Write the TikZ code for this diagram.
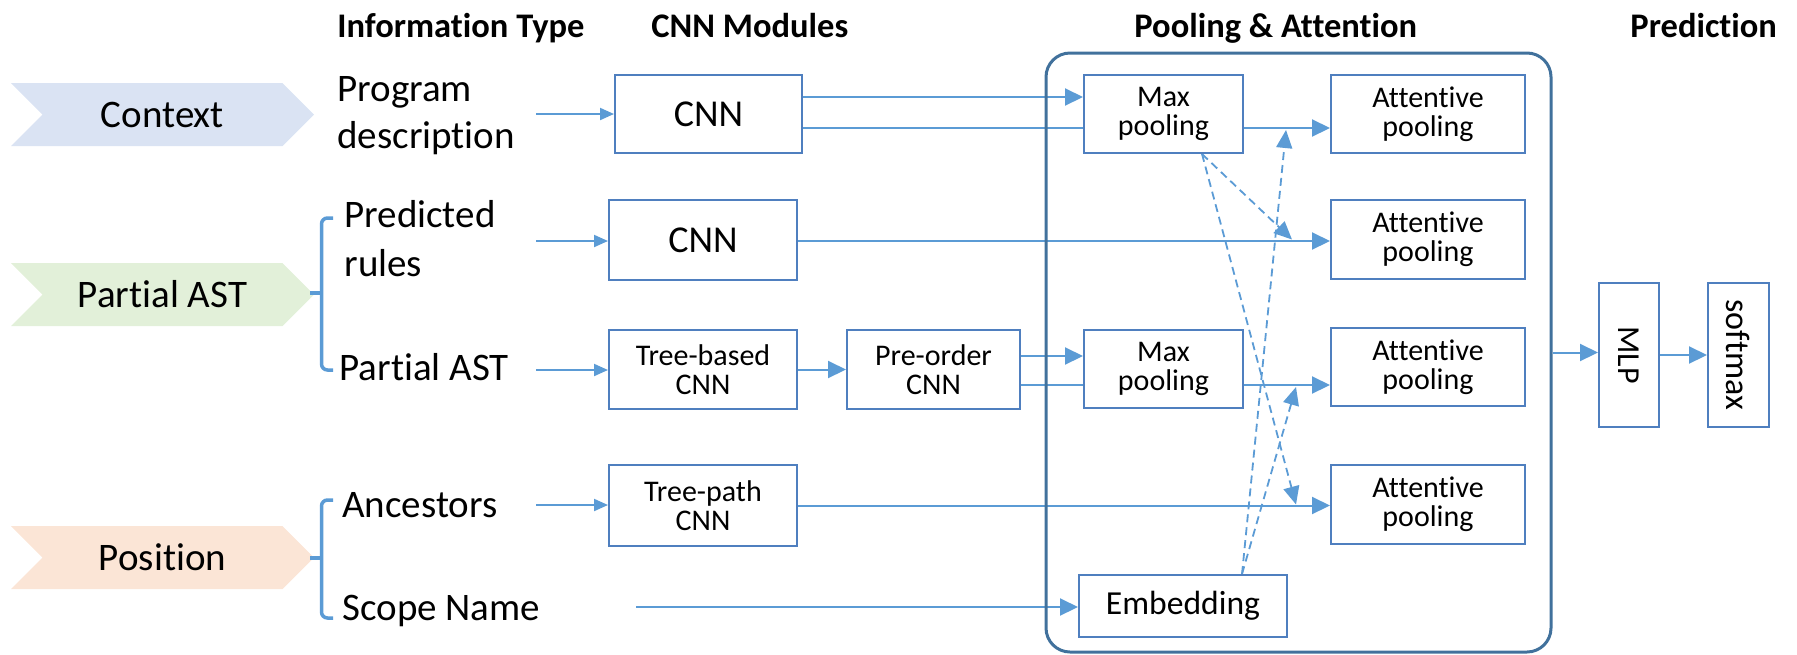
\documentclass[tikz,border=0pt]{standalone}
\usepackage{fontspec}
\setmainfont{Carlito}[Ligatures={NoCommon,NoContextual},RawFeature={-liga;-clig;-dlig}]
\usepackage{graphicx}
\usetikzlibrary{arrows.meta,shapes.symbols,backgrounds}
\definecolor{linec}{HTML}{5B9BD5}
\definecolor{boxc}{HTML}{4F7FBF}
\definecolor{rectc}{HTML}{41719C}
\definecolor{ctxc}{HTML}{DAE3F3}
\definecolor{astc}{HTML}{E2F0D9}
\definecolor{posc}{HTML}{FBE5D6}
\begin{document}
\begin{tikzpicture}[x=0.5pt,y=-0.5pt,
  box/.style={draw=boxc,line width=1pt,fill=white,inner sep=0pt,align=center,font=\fontsize{15}{14.5}\selectfont},
  arr/.style={draw=linec,line width=1pt,-{Triangle[length=9pt,width=8.5pt]}},
  sarr/.style={draw=linec,line width=1pt,-{Triangle[length=7pt,width=6pt]}},
  darr/.style={draw=linec,line width=0.9pt,dash pattern=on 4pt off 2.5pt,-{Triangle[length=9pt,width=8pt]}},
  lab/.style={inner sep=0pt,font=\fontsize{19.5}{23.5}\selectfont,align=left},
  head/.style={inner sep=0pt,font=\fontsize{17.25}{20}\selectfont\bfseries},
  chev/.style={signal,signal from=west,signal to=east,draw=none,minimum width=151.5pt,minimum height=31.5pt,inner sep=0pt,font=\fontsize{19.5}{23.5}\selectfont},
  brace/.style={draw=linec,line width=1.75pt,rounded corners=3pt}]
\useasboundingbox (0,0) rectangle (1797,654);

% headers
\node[head,anchor=base west] (h1) at (337,37) {Information Type};
\node[head,anchor=base west] (h2) at (651,37) {CNN Modules};
\node[head,anchor=base west] (h3) at (1134,37) {Pooling \& Attention};
\node[head,anchor=base west] (h4) at (1630,37) {Prediction};

% chevrons
\node[chev,fill=ctxc] (ctx) at (162.5,114.5) {Context};
\node[chev,fill=astc] (astchev) at (162.5,294.5) {Partial AST};
\node[chev,fill=posc] (pos) at (162.5,557.5) {Position};

% labels
\node[lab,anchor=west] (prog) at (337,115.5) {Program\\description};
\node[lab,anchor=west,font=\fontsize{19.5}{24.5}\selectfont] (pred) at (344,239) {Predicted\\rules};
\node[lab,anchor=base west] (past) at (339,380) {Partial AST};
\node[lab,anchor=base west] (anc) at (342,517) {Ancestors};
\node[lab,anchor=base west] (scope) at (342,620) {Scope Name};

% braces
\draw[brace] (333,218) -- (321.5,218) -- (321.5,370) -- (333,370);
\draw[brace] (321.5,293) -- (310,293);
\draw[brace] (333,500) -- (321.5,500) -- (321.5,618) -- (333,618);
\draw[brace] (321.5,558) -- (310,558);

% pooling & attention frame
\node[draw=rectc,line width=1.5pt,rounded corners=12pt,minimum width=252.5pt,minimum height=299.5pt,inner sep=0pt] (pa) at (1298.5,352.5) {};

% CNN modules
\node[box,minimum width=93.5pt,minimum height=39pt,font=\fontsize{19}{22}\selectfont] (cnn1) at (708.5,114) {CNN};
\node[box,minimum width=94pt,minimum height=40pt,font=\fontsize{19}{22}\selectfont] (cnn2) at (703,240) {CNN};
\node[box,minimum width=94pt,minimum height=39.5pt] (treeb) at (703,369.5) {Tree-based\\CNN};
\node[box,minimum width=86.5pt,minimum height=39.5pt] (preo) at (933.5,369.5) {Pre-order\\CNN};
\node[box,minimum width=94pt,minimum height=40.5pt] (treep) at (703,505.5) {Tree-path\\CNN};

% pooling
\node[box,minimum width=79.5pt,minimum height=39pt] (mp1) at (1163.5,114) {Max\\pooling};
\node[box,minimum width=79.5pt,minimum height=39pt] (mp2) at (1163.5,369) {Max\\pooling};
\node[box,minimum width=104pt,minimum height=31pt,font=\fontsize{16.8}{20}\selectfont] (emb) at (1183,606) {Embedding};
\node[box,minimum width=97pt,minimum height=39pt] (att1) at (1428,114) {Attentive\\pooling};
\node[box,minimum width=97pt,minimum height=39.5pt] (att2) at (1428,239.5) {Attentive\\pooling};
\node[box,minimum width=97pt,minimum height=39pt] (att3) at (1428,367) {Attentive\\pooling};
\node[box,minimum width=97pt,minimum height=39.5pt] (att4) at (1428,504.5) {Attentive\\pooling};

% prediction
\node[box,minimum width=30pt,minimum height=72pt] (mlp) at (1629,355) {\rotatebox{-90}{\fontsize{16}{19}\selectfont MLP}};
\node[box,minimum width=30.5pt,minimum height=72pt] (sm) at (1738.5,355) {\rotatebox{-90}{\fontsize{17}{20}\selectfont softmax}};

\begin{scope}[on background layer]
  \coordinate (s1) at (536,114);
  \coordinate (s2) at (536,241);
  \coordinate (s3) at (536,370);
  \coordinate (s4) at (536,505);
  \coordinate (s5) at (636,607);
  \draw[sarr] (s1) -- (s1 -| cnn1.west);
  \draw[sarr] (s2) -- (s2 -| cnn2.west);
  \draw[sarr] (s3) -- (s3 -| treeb.west);
  \draw[sarr] (s4) -- (s4 -| treep.west);
  \draw[arr] (s5) -- (s5 -| emb.west);

  \coordinate (c1a) at ([yshift=8.5pt]cnn1.east);
  \coordinate (c1b) at ([yshift=-7pt]cnn1.east);
  \draw[arr] (c1a) -- (c1a -| mp1.west);
  \draw[arr] (c1b) -- (c1b -| att1.west);
  \coordinate (c2) at ([yshift=-0.5pt]cnn2.east);
  \draw[arr] (c2) -- (c2 -| att2.west);
  \draw[arr] (treeb.east) -- (preo.west);
  \coordinate (p1) at ([yshift=6.75pt]preo.east);
  \coordinate (p2) at ([yshift=-7.75pt]preo.east);
  \draw[arr] (p1) -- (p1 -| mp2.west);
  \draw[arr] (p2) -- (p2 -| att3.west);
  \draw[arr] (treep.east) -- (treep.east -| att4.west);

  \coordinate (d1) at ([xshift=19.25pt]mp1.south);
  \coordinate (d2) at ([xshift=29.5pt]emb.north);
  \draw[darr] (d1) -- ([xshift=-19pt]att2.west);
  \draw[darr] (d1) -- ([xshift=-17pt]att4.west);
  \draw[darr] (d2) -- ([xshift=-22pt,yshift=-8pt]att1.west);
  \draw[darr] (d2) -- ([xshift=-17pt,yshift=-10pt]att3.west);

  \draw[arr] (pa.east) -- (pa.east -| mlp.west);
  \draw[arr] (mlp.east) -- (sm.west);
\end{scope}
\end{tikzpicture}
\end{document}
